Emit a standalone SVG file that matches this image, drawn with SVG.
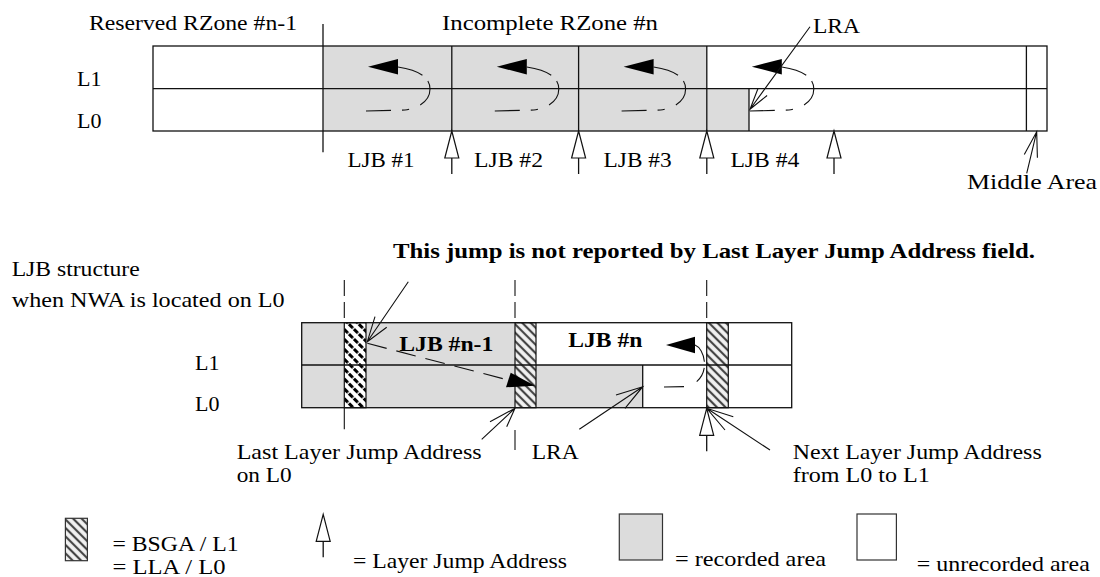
<svg xmlns="http://www.w3.org/2000/svg" width="1100" height="577" viewBox="0 0 1100 577">
<style>
text{font-family:"Liberation Serif","Times New Roman",serif;font-size:22px;fill:#000}
.b{font-weight:bold}
.ln{stroke:#111;stroke-width:1.3;fill:none}
.gray{fill:#dcdcdc}
.tri{fill:#fff;stroke:#111;stroke-width:1.2}
.ah{fill:#000;stroke:none}
.thin{stroke:#111;stroke-width:1.1;fill:none}
</style>
<defs>
<pattern id="hatchL" width="6" height="6" patternUnits="userSpaceOnUse" patternTransform="rotate(45)">
<rect width="6" height="6" fill="#f2f2f2"/>
<line x1="0" y1="3" x2="6" y2="3" stroke="#444" stroke-width="2.2"/>
</pattern>
<pattern id="hatchD" width="7" height="7" patternUnits="userSpaceOnUse" patternTransform="rotate(45)">
<rect width="7" height="7" fill="#fff"/>
<line x1="0" y1="3.5" x2="7" y2="3.5" stroke="#000" stroke-width="3.2" stroke-dasharray="5.6 1.4"/>
</pattern>
<g id="lja">
<polygon class="tri" points="0,0 -7,27 7,27"/>
<line class="ln" x1="0" y1="27" x2="0" y2="43"/>
</g>
<g id="jump">
<path class="thin" d="M43,111 L82,110 C97,108 107,100 107,89 C107,77 95,70 75,67" stroke-dasharray="25 11 7 12 28 8 40"/>
<polygon class="ah" points="45,66.7 75,58.9 75,74.5"/>
</g>
</defs>

<g id="top-diagram">
<rect class="gray" x="323" y="46" width="383.8" height="42.7"/>
<rect class="gray" x="323" y="88.7" width="426" height="42.3"/>
<line class="ln" x1="153" y1="88.7" x2="1047" y2="88.7"/>
<line class="ln" x1="323" y1="24" x2="323" y2="152.3"/>
<line class="ln" x1="451.8" y1="46" x2="451.8" y2="131"/>
<line class="ln" x1="578.6" y1="46" x2="578.6" y2="131"/>
<line class="ln" x1="706.8" y1="46" x2="706.8" y2="131"/>
<line class="ln" x1="749" y1="88.7" x2="749" y2="131"/>
<line class="ln" x1="1026.4" y1="46" x2="1026.4" y2="131"/>
<rect class="ln" x="153" y="46" width="894" height="85"/>
</g>

<g id="top-jumps">
<use href="#jump" x="323"/>
<use href="#jump" x="451.8"/>
<use href="#jump" x="578.6"/>
<use href="#jump" x="706.8"/>
</g>

<g id="top-labels">
<text x="89" y="30" textLength="208" lengthAdjust="spacingAndGlyphs">Reserved RZone #n-1</text>
<text x="442" y="30" textLength="216" lengthAdjust="spacingAndGlyphs">Incomplete RZone #n</text>
<text x="813" y="33" textLength="47" lengthAdjust="spacingAndGlyphs">LRA</text>
<text x="77" y="86">L1</text>
<text x="77" y="128">L0</text>
<text x="347.5" y="166.7" textLength="67" lengthAdjust="spacingAndGlyphs">LJB #1</text>
<text x="474" y="166.7" textLength="69" lengthAdjust="spacingAndGlyphs">LJB #2</text>
<text x="603.6" y="166.7" textLength="68" lengthAdjust="spacingAndGlyphs">LJB #3</text>
<text x="730.4" y="166.7" textLength="69" lengthAdjust="spacingAndGlyphs">LJB #4</text>
<text x="967" y="189" textLength="130" lengthAdjust="spacingAndGlyphs">Middle Area</text>
</g>

<g id="bottom-diagram">
<rect class="gray" x="301.7" y="322.7" width="213.3" height="42.3"/>
<rect class="gray" x="301.7" y="365" width="341" height="42.7"/>
<rect x="344.3" y="322.7" width="21.7" height="85" fill="url(#hatchD)" stroke="#111" stroke-width="1.2"/>
<rect x="515" y="322.7" width="21" height="85" fill="url(#hatchL)" stroke="#111" stroke-width="1.2"/>
<rect x="706.7" y="322.7" width="21.6" height="85" fill="url(#hatchL)" stroke="#111" stroke-width="1.2"/>
<line class="ln" x1="301.7" y1="365" x2="791.7" y2="365"/>
<line class="ln" x1="642.7" y1="365" x2="642.7" y2="407.7"/>
<rect class="ln" x="301.7" y="322.7" width="490" height="85"/>
</g>

<g id="bottom-labels">
<text class="b" x="393" y="258" textLength="642" lengthAdjust="spacingAndGlyphs">This jump is not reported by Last Layer Jump Address field.</text>
<text x="11.7" y="276" textLength="128" lengthAdjust="spacingAndGlyphs">LJB structure</text>
<text x="11.7" y="306.7" textLength="273" lengthAdjust="spacingAndGlyphs">when NWA is located on L0</text>
<text x="195" y="370">L1</text>
<text x="195" y="411">L0</text>
<text class="b" x="399.3" y="351" textLength="94" lengthAdjust="spacingAndGlyphs">LJB #n-1</text>
<text class="b" x="568.3" y="346.7" textLength="74" lengthAdjust="spacingAndGlyphs">LJB #n</text>
<text x="236.7" y="459" textLength="245" lengthAdjust="spacingAndGlyphs">Last Layer Jump Address</text>
<text x="236.7" y="482" textLength="55" lengthAdjust="spacingAndGlyphs">on L0</text>
<text x="531.7" y="459" textLength="47" lengthAdjust="spacingAndGlyphs">LRA</text>
<text x="792.7" y="459" textLength="249" lengthAdjust="spacingAndGlyphs">Next Layer Jump Address</text>
<text x="792.7" y="482" textLength="137" lengthAdjust="spacingAndGlyphs">from L0 to L1</text>
</g>

<g id="connectors">
<use href="#lja" x="451.8" y="131"/>
<use href="#lja" x="578.6" y="131"/>
<use href="#lja" x="706.8" y="131"/>
<use href="#lja" x="834" y="131"/>
<path class="thin" d="M810,26.7 L750,109.3 M767.1,95.5 L750,109.3 L757.9,88.8"/>
<path class="thin" d="M1026.7,173.3 L1036.7,131.7 M1024.3,154.5 L1036.7,131.7 L1037.4,157.7"/>
<line class="thin" x1="344.3" y1="280" x2="344.3" y2="322.7" stroke-dasharray="16 6"/>
<line class="thin" x1="344.3" y1="408" x2="344.3" y2="429.3"/>
<line class="thin" x1="515" y1="280" x2="515" y2="322.7" stroke-dasharray="16 6"/>
<line class="thin" x1="515" y1="430" x2="515" y2="450"/>
<line class="thin" x1="706.7" y1="280" x2="706.7" y2="322.7" stroke-dasharray="16 6"/>
<line class="thin" x1="367.3" y1="343.3" x2="508" y2="380" stroke-dasharray="20 10"/>
<polygon class="ah" points="510.7,372.7 535,385.7 506,387.3"/>
<path class="thin" d="M664,387 L688,386.5 C699,383 705,373 704.5,363 C704,354 700,347 695,345" stroke-dasharray="20 14 16 6 30"/>
<polygon class="ah" points="666,345 695,336.7 695,353.3"/>
<path class="thin" d="M408.3,281.7 L367.3,341.7 M375,316.7 L367.3,341.7 L386.7,327.3"/>
<path class="thin" d="M481.7,439.3 L515,408.3 M490,421.7 L515,408.3 L506.7,426.7"/>
<path class="thin" d="M579.3,429.3 L642.7,386.7 M616,395 L642.7,386.7 L625,408.3"/>
<use href="#lja" x="706.7" y="408.3"/>
<path class="thin" d="M770,450 L706.7,408.3 M733.3,416.7 L706.7,408.3 L725,430"/>
</g>

<g id="legend">
<rect x="65.4" y="518.3" width="22" height="42.4" fill="url(#hatchL)" stroke="#333" stroke-width="1.2"/>
<text x="112.5" y="551" textLength="126" lengthAdjust="spacingAndGlyphs">= BSGA / L1</text>
<text x="112.5" y="574" textLength="113" lengthAdjust="spacingAndGlyphs">= LLA / L0</text>
<use href="#lja" x="323.2" y="514.3"/>
<text x="352.9" y="568" textLength="214" lengthAdjust="spacingAndGlyphs">= Layer Jump Address</text>
<rect class="gray" x="619.3" y="514" width="43.2" height="46" stroke="#333" stroke-width="1.2"/>
<text x="675" y="566" textLength="151" lengthAdjust="spacingAndGlyphs">= recorded area</text>
<rect x="857" y="514" width="39.4" height="46" fill="#fff" stroke="#333" stroke-width="1.2"/>
<text x="916.8" y="571" textLength="173" lengthAdjust="spacingAndGlyphs">= unrecorded area</text>
</g>
</svg>
